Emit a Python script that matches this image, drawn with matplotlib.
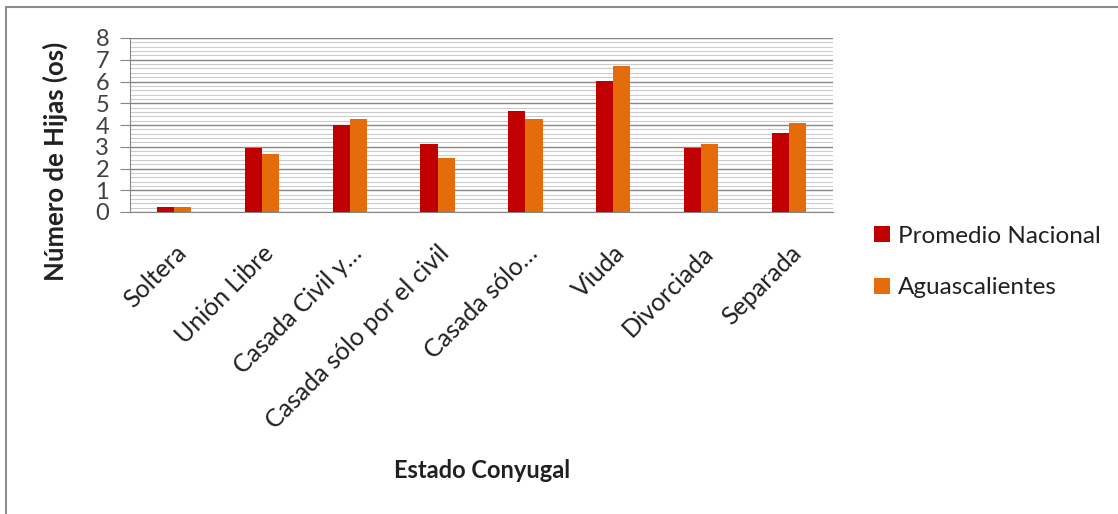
import matplotlib
matplotlib.use("Agg")
import matplotlib.pyplot as plt
import numpy as np
from matplotlib.patches import Patch, Rectangle

categories = ["Soltera", "Unión Libre", "Casada Civil y…", "Casada sólo por el civil",
              "Casada sólo…", "Viuda", "Divorciada", "Separada"]
promedio_nacional = [0.21, 2.94, 4.00, 3.11, 4.65, 6.02, 2.94, 3.63]
aguascalientes = [0.21, 2.67, 4.26, 2.50, 4.26, 6.73, 3.11, 4.07]
series_names = ["Promedio Nacional", "Aguascalientes"]
y_ticks = [0, 1, 2, 3, 4, 5, 6, 7, 8]

plt.rcParams['font.family'] = ['Lato', 'DejaVu Sans']

fig = plt.figure(figsize=(11.18, 5.14), dpi=100)
W, H = 1118, 514
ax = fig.add_axes([130 / W, 1 - 212 / H, (833 - 130) / W, (212 - 38) / H])

# outer frame
fig.patches.append(Rectangle((6 / W, -0.05), 1.2, 1 - 7 / H + 0.05, transform=fig.transFigure,
                             fill=False, edgecolor="#8c8c8c", linewidth=1.5))

x = np.arange(len(categories))
bw = 0.195
red = "#C00000"
orange = "#E46C0A"
ax.bar(x - bw / 2, promedio_nacional, bw, color=red, zorder=3)
ax.bar(x + bw / 2, aguascalientes, bw, color=orange, zorder=3)

ax.set_xlim(-0.5, len(categories) - 0.5)
ax.set_ylim(0, 8)
ax.set_yticks(y_ticks)
ax.set_yticklabels([str(t) for t in y_ticks], fontsize=17, color="#404040")
ax.set_yticks(np.arange(0, 8.01, 0.2), minor=True)
ax.grid(axis="y", which="minor", color="#cccccc", linewidth=0.8, zorder=0)
ax.grid(axis="y", which="major", color="#868686", linewidth=1.0, zorder=1)
ax.tick_params(axis="y", which="major", length=7, color="#868686", pad=8)
ax.tick_params(axis="y", which="minor", length=0)

ax.set_xticks(x)
ax.set_xticklabels(categories, rotation=45, ha="right", rotation_mode="anchor",
                   fontsize=18, color="#202020")
ax.tick_params(axis="x", length=0, pad=21)

for s in ["top", "right"]:
    ax.spines[s].set_visible(False)
ax.spines["left"].set_color("#868686")
ax.spines["bottom"].set_color("#868686")

ax.set_ylabel("Número de Hijas (os)", fontsize=18.5, fontweight="bold", color="#202020")
ax.yaxis.set_label_coords(-0.088, 0.29)

fig.text(482 / W, 1 - 471 / H, "Estado Conyugal", fontsize=17, fontweight="bold",
         color="#202020", ha="center", va="center")

handles = [Patch(facecolor=red), Patch(facecolor=orange)]
fig.legend(handles, series_names, loc="center left", bbox_to_anchor=(852 / W, 1 - 262 / H),
           frameon=False, fontsize=17.5, handlelength=0.65, handleheight=0.65,
           handletextpad=0.35, labelspacing=1.25, labelcolor="#202020")

fig.savefig("out.png", dpi=100)
